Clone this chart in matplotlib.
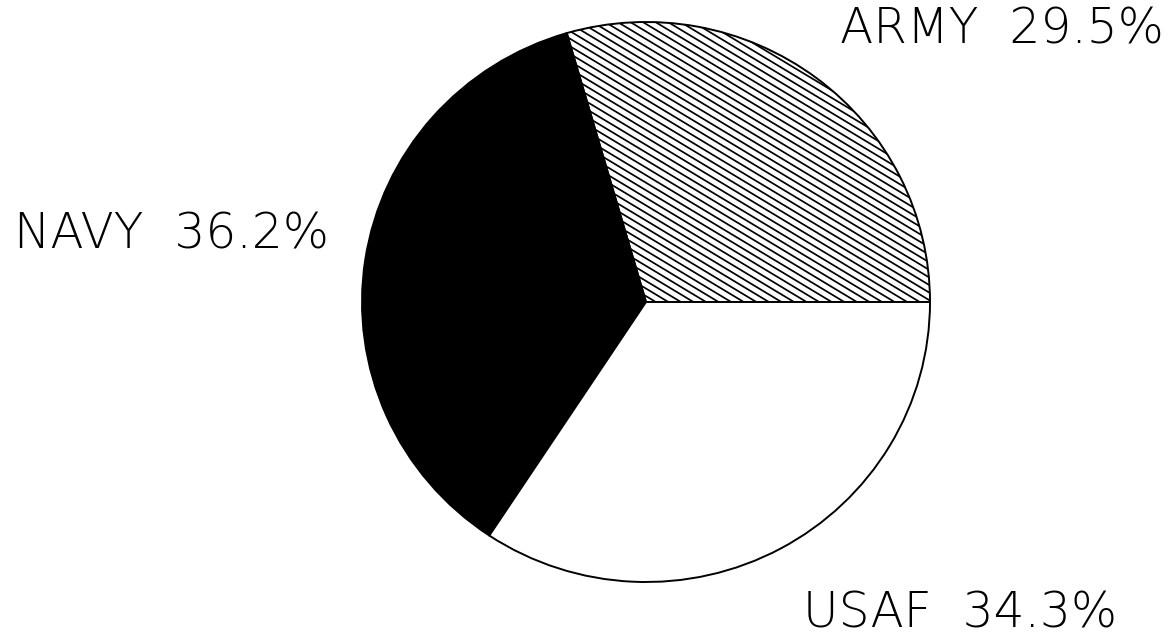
import numpy as np
import matplotlib
matplotlib.use("Agg")
import matplotlib.pyplot as plt
from matplotlib.collections import LineCollection

services = ["ARMY", "NAVY", "USAF"]
shares = [29.5, 36.2, 34.3]
colors = ["white", "black", "white"]

fig = plt.figure(figsize=(11.72, 6.43), dpi=100)
# axes box sized to the pie in the scan (slightly wider than tall)
ax = fig.add_axes([362 / 1172, 61 / 643, 568 / 1172, 560 / 643])
wedges, _ = ax.pie(shares, colors=colors, startangle=0, counterclock=True,
                   radius=1.0, frame=False,
                   wedgeprops=dict(edgecolor="black", linewidth=1.4))
ax.set_aspect("auto")
ax.set_xlim(-1, 1)
ax.set_ylim(-1, 1)
ax.axis("off")

# hand-made hatching for the ARMY slice (lines ~31 deg down to the right)
m = -0.61
segs = []
for b in np.arange(-0.6, 2.2, 0.027):
    segs.append([(-1.1, m * -1.1 + b), (1.1, m * 1.1 + b)])
lc = LineCollection(segs, colors="black", linewidths=1.25)
ax.add_collection(lc)
lc.set_clip_path(wedges[0])

# labels
pos = {"ARMY": (840, 29), "NAVY": (14, 235), "USAF": (803, 614)}
for name, val in zip(services, shares):
    px, py = pos[name]
    fig.text(px / 1172, 1 - py / 643, f"{name}  {val:.1f}%",
             ha="left", va="center", fontsize=35, fontweight="light",
             family=["DejaVu Sans"])

fig.savefig("out.png", dpi=100)
